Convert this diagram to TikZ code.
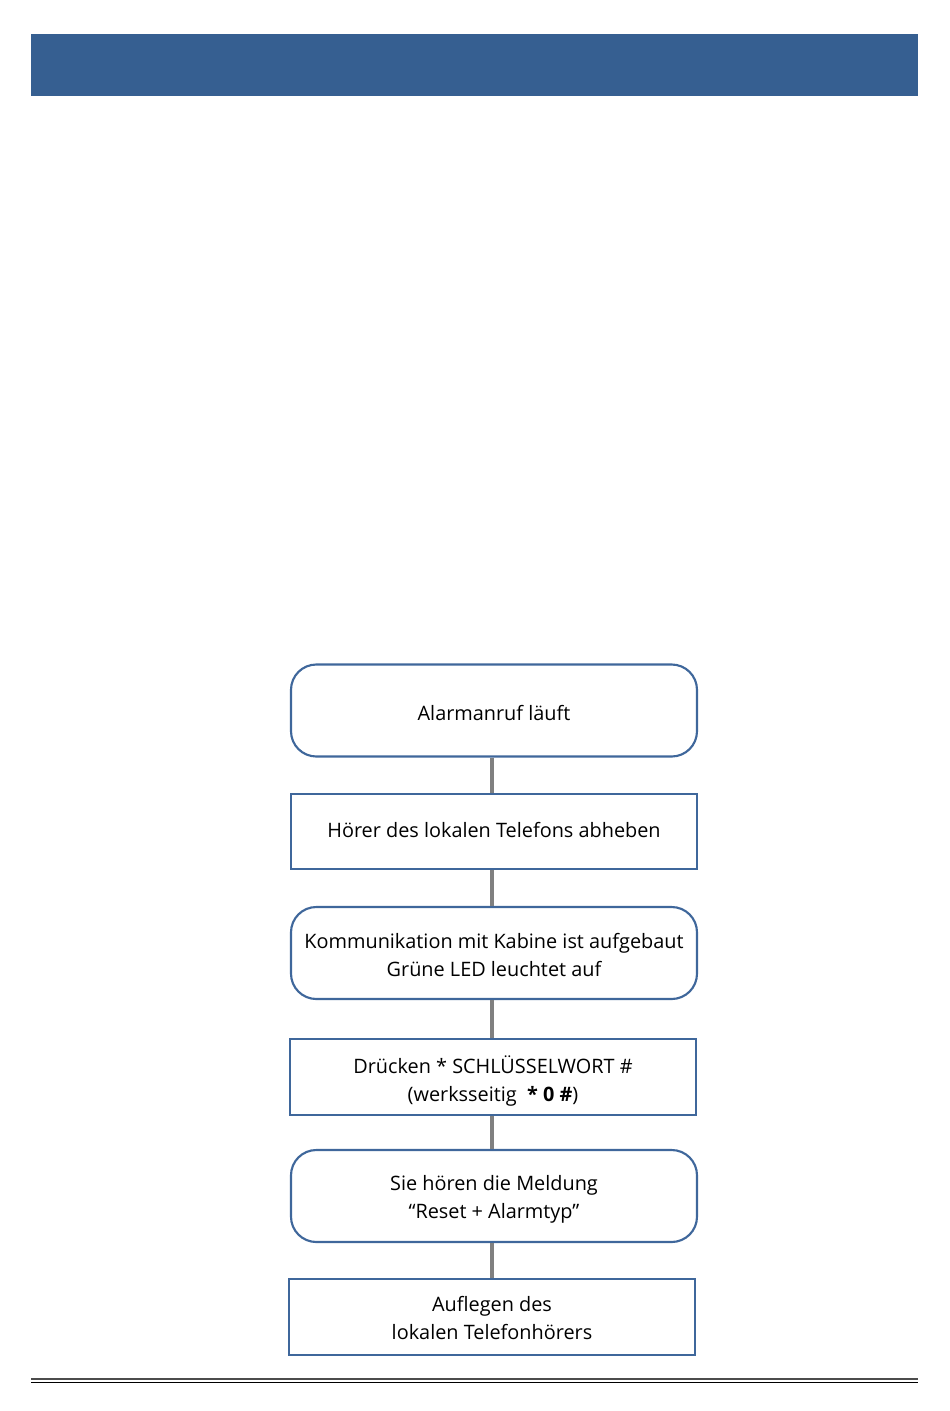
\documentclass[tikz,border=0pt]{standalone}
\usepackage{fontspec}
\setmainfont{Open Sans}
\definecolor{hdrblue}{HTML}{365F91}
\definecolor{boxblue}{HTML}{3F679B}
\definecolor{conngray}{HTML}{808080}
\newcommand\dnbox[2]{\raisebox{-#1}[\height][\depth]{\begin{tabular}{@{}c@{}}#2\end{tabular}}}
\begin{document}
\begin{tikzpicture}[x=0.75pt,y=-0.75pt,
  every node/.style={font=\fontsize{14.9pt}{21pt}\selectfont, align=center, inner sep=0pt},
  roundbox/.style={draw=boxblue, line width=1.6pt, rounded corners=19pt, minimum width=304.5pt, minimum height=69pt},
  rectbox/.style={draw=boxblue, line width=1.6pt, minimum width=304.5pt, minimum height=56.5pt},
  conn/.style={draw=conngray, line width=3.6pt}]
\useasboundingbox (0,0) rectangle (950,1411);
\node[fill=hdrblue, minimum width=665.25pt, minimum height=46.5pt] (header) at (474.5,65) {};
\node[roundbox] (b1) at (494,710.5) {\dnbox{3pt}{Alarmanruf läuft}};
\node[rectbox] (b2) at (494,831.5) {\dnbox{0pt}{Hörer des lokalen Telefons abheben}};
\node[roundbox] (b3) at (494,953) {\dnbox{3pt}{Kommunikation mit Kabine ist aufgebaut\\Grüne LED leuchtet auf}};
\node[rectbox] (b4) at (493,1077) {\dnbox{3.75pt}{Drücken * SCHLÜSSELWORT \#\\(werksseitig \ \textbf{* 0 \#})}};
\node[roundbox] (b5) at (494,1196) {\dnbox{2.25pt}{Sie hören die Meldung\\“Reset + Alarmtyp”}};
\node[rectbox] (b6) at (492,1317) {\dnbox{2.25pt}{Auflegen des\\lokalen Telefonhörers}};
\path[conn] (b1.south -| 492,0) -- (b2.north -| 492,0);
\path[conn] (b2.south -| 492,0) -- (b3.north -| 492,0);
\path[conn] (b3.south -| 492,0) -- (b4.north -| 492,0);
\path[conn] (b4.south -| 492,0) -- (b5.north -| 492,0);
\path[conn] (b5.south -| 492,0) -- (b6.north -| 492,0);
\coordinate (l1a) at (31,1379);
\coordinate (l1b) at (918,1379);
\coordinate (l2a) at (31,1382.5);
\coordinate (l2b) at (918,1382.5);
\draw[line width=1.6pt, draw=black!70] (l1a) -- (l1b);
\draw[line width=0.8pt, draw=black] (l2a) -- (l2b);
\end{tikzpicture}
\end{document}
